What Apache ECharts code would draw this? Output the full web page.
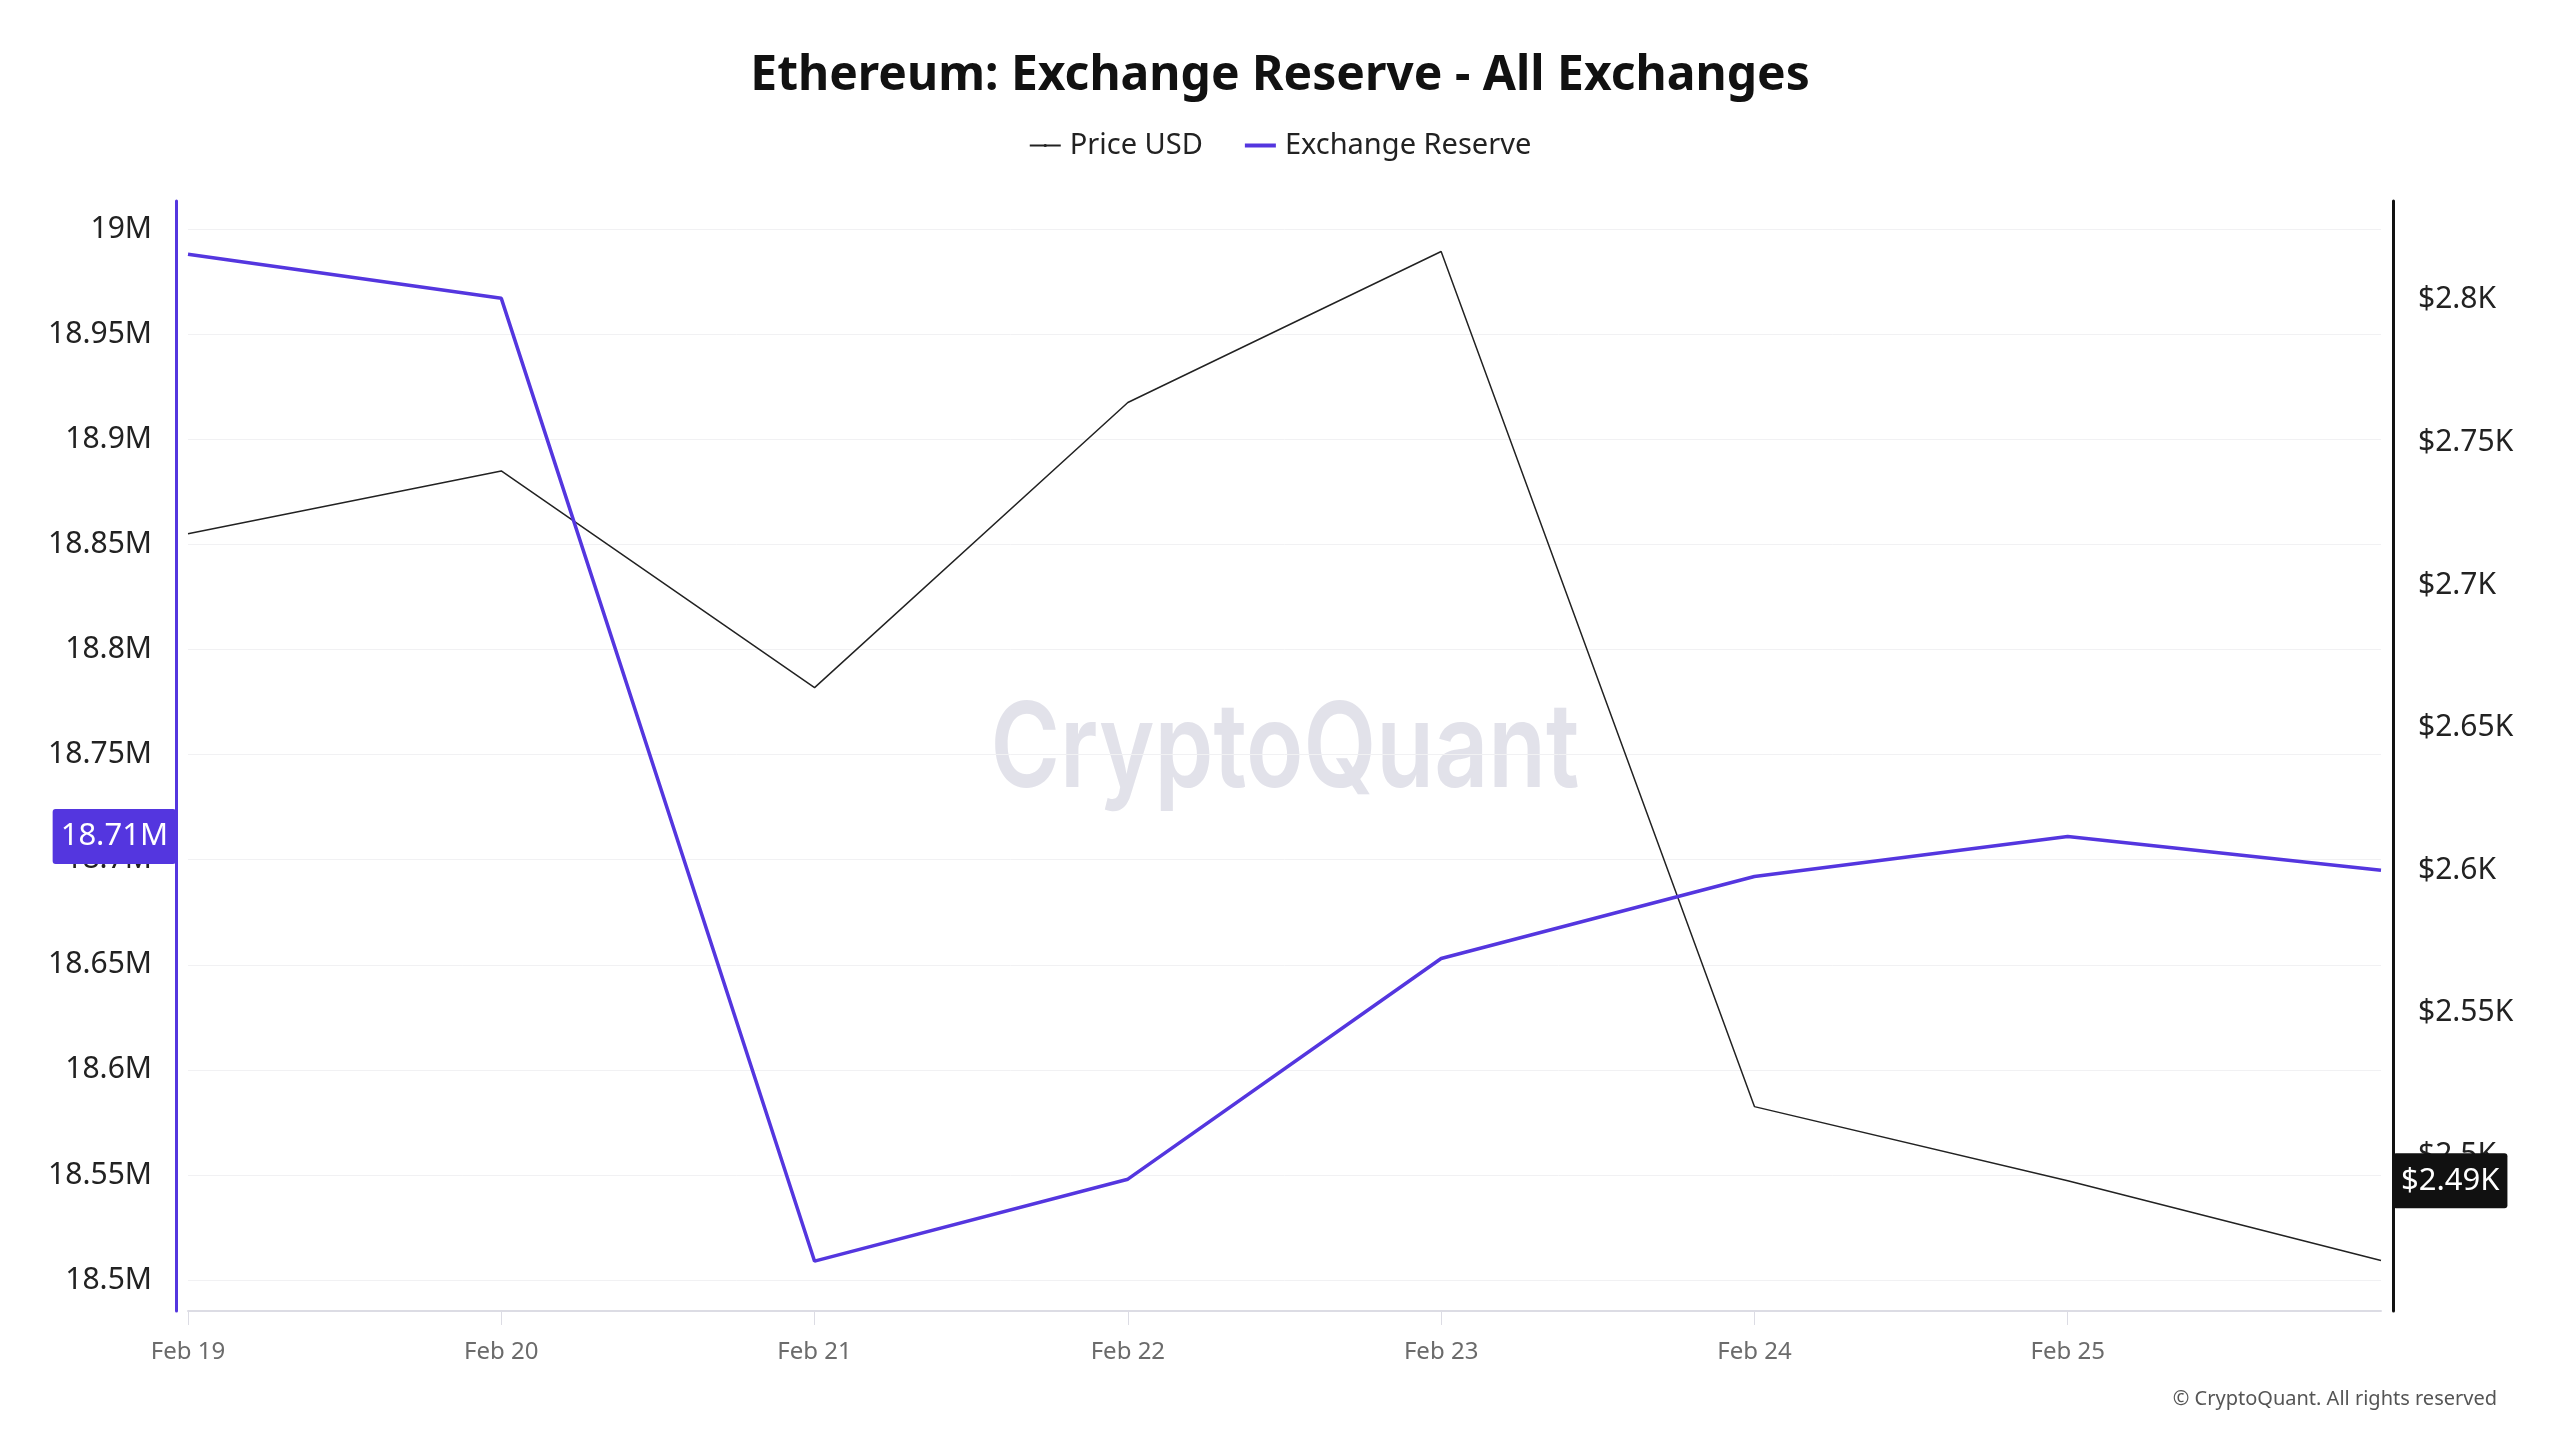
<!DOCTYPE html>
<html>
<head>
<meta charset="utf-8">
<title>Ethereum: Exchange Reserve - All Exchanges</title>
<script src="https://cdn.jsdelivr.net/npm/echarts@6/dist/echarts.min.js"></script>
<style>
  html, body { margin: 0; padding: 0; background: #fff; }
  #chart { width: 2560px; height: 1440px; }
</style>
</head>
<body>
<div id="chart"></div>
<script>
// values
const dates = ["Feb 19", "Feb 20", "Feb 21", "Feb 22", "Feb 23", "Feb 24", "Feb 25", "Feb 26"];
const priceUsd = [2718, 2740, 2664, 2764, 2817, 2517, 2491, 2463];
const exchangeReserve = [18988000, 18967000, 18509000, 18548000, 18653000, 18692000, 18711000, 18695000];
const latestReserve = 18711000;
const latestPrice = 2491;
// axis extents as seen in the reference
const reserveMin = 18485300;
const reserveMax = 19013300;

const PURPLE = "#5436df";
const FONT = "Noto Sans";

function padMin(v) { return v.min - (v.max - v.min) * 0.05; }
function padMax(v) { return v.max + (v.max - v.min) * 0.05; }
function onStep(v, step) { return Math.abs(v / step - Math.round(v / step)) < 1e-6; }

const chart = echarts.init(document.getElementById("chart"));
chart.setOption({
  backgroundColor: "#fff",
  textStyle: { fontFamily: FONT },
  title: {
    text: "Ethereum: Exchange Reserve - All Exchanges",
    left: "center",
    top: 47,
    textStyle: { fontFamily: FONT, fontSize: 48, fontWeight: "bold", color: "#111" },
  },
  legend: {
    top: 126,
    left: "center",
    itemWidth: 31,
    itemHeight: 4,
    itemGap: 40,
    textStyle: { fontFamily: FONT, fontSize: 29, color: "#222", padding: [0, 0, 0, 4] },
    data: [
      { name: "Price USD", lineStyle: { width: 2 } },
      { name: "Exchange Reserve", lineStyle: { width: 4 } },
    ],
  },
  grid: { left: 188, right: 179, top: 201, bottom: 129 },
  graphic: [
    {
      type: "text",
      x: 1285,
      y: 752,
      scaleX: 0.8,
      z: 0,
      style: {
        text: "CryptoQuant",
        font: "600 118px Inter",
        fill: "#e2e2ea",
        align: "center",
        verticalAlign: "middle",
      },
    },
    {
      type: "text",
      right: 63,
      top: 1389,
      style: {
        text: "© CryptoQuant. All rights reserved",
        font: "20px Noto Sans",
        fill: "#555",
      },
    },
  ],
  xAxis: {
    type: "category",
    data: dates,
    boundaryGap: false,
    axisLine: { lineStyle: { color: "#dcdce4", width: 2 } },
    axisTick: {
      length: 14,
      interval: (i) => i < 7,
      lineStyle: { color: "#dcdce4", width: 1 },
    },
    axisLabel: {
      interval: (i) => i < 7,
      margin: 29,
      fontFamily: FONT,
      fontSize: 24,
      color: "#6b6b6b",
    },
    splitLine: { show: false },
  },
  yAxis: [
    {
      type: "value",
      position: "left",
      offset: 12,
      min: reserveMin,
      max: reserveMax,
      splitNumber: 10,
      axisLine: { show: true, lineStyle: { color: PURPLE, width: 3 } },
      axisTick: { show: false },
      axisLabel: {
        margin: 24,
        fontFamily: FONT,
        fontSize: 30,
        color: "#222",
        formatter: (v) => (onStep(v, 50000) ? parseFloat((v / 1e6).toFixed(2)) + "M" : ""),
      },
      splitLine: { showMinLine: false, showMaxLine: false, lineStyle: { color: "#f1f1f3", width: 1 } },
      axisPointer: {
        show: true,
        type: "none",
        status: "show",
        value: latestReserve,
        triggerTooltip: false,
        label: {
          show: true,
          margin: 0,
          backgroundColor: PURPLE,
          color: "#fff",
          fontFamily: FONT,
          fontSize: 31,
          padding: [12, 8, 12, 8],
          formatter: (p) => (p.value / 1e6).toFixed(2) + "M",
        },
      },
    },
    {
      type: "value",
      position: "right",
      offset: 12,
      min: padMin,
      max: padMax,
      splitNumber: 7,
      axisLine: { show: true, lineStyle: { color: "#111", width: 3 } },
      axisTick: { show: false },
      axisLabel: {
        margin: 25,
        fontFamily: FONT,
        fontSize: 30,
        color: "#222",
        formatter: (v) => (onStep(v, 50) && v > 2455 ? "$" + parseFloat((v / 1000).toFixed(2)) + "K" : ""),
      },
      splitLine: { show: false },
      axisPointer: {
        show: true,
        type: "none",
        status: "show",
        value: latestPrice,
        triggerTooltip: false,
        label: {
          show: true,
          margin: 0,
          backgroundColor: "#111",
          color: "#fff",
          fontFamily: FONT,
          fontSize: 31,
          padding: [12, 8, 12, 8],
          formatter: (p) => "$" + (p.value / 1000).toFixed(2) + "K",
        },
      },
    },
  ],
  series: [
    {
      name: "Price USD",
      type: "line",
      yAxisIndex: 1,
      data: priceUsd,
      symbol: "none",
      color: "#222",
      lineStyle: { color: "#222", width: 1.5 },
      z: 3,
    },
    {
      name: "Exchange Reserve",
      type: "line",
      yAxisIndex: 0,
      data: exchangeReserve,
      symbol: "none",
      color: PURPLE,
      lineStyle: { color: PURPLE, width: 3.5 },
      z: 4,
    },
  ],
});
</script>
</body>
</html>
